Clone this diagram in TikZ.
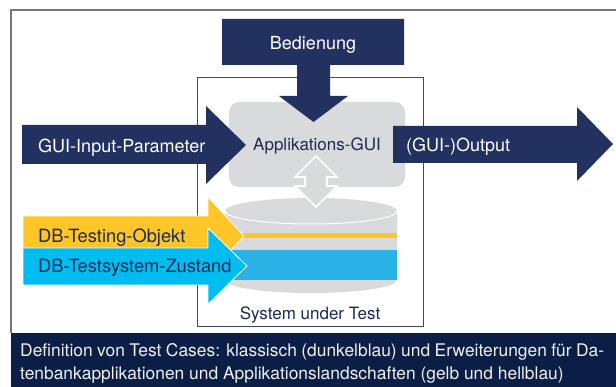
\documentclass[tikz,border=0pt]{standalone}
\usepackage{fontspec}
\setmainfont{TeX Gyre Heros}
\definecolor{navy}{HTML}{22315F}
\definecolor{capbg}{HTML}{0A1E46}
\definecolor{guigray}{HTML}{D9DADB}
\definecolor{ylw}{HTML}{FDC526}
\definecolor{cyanarr}{HTML}{00BDF0}
\definecolor{cyanband}{HTML}{29B2E6}
\definecolor{txtnavy}{HTML}{1E2A55}
\definecolor{framegray}{HTML}{777777}
\definecolor{sutline}{HTML}{3B4675}
\tikzset{
  lbl/.style={inner sep=0pt, anchor=base west, font=\fontsize{18}{20}\selectfont},
  lblw/.style={lbl, text=white},
  lbln/.style={lbl, text=txtnavy, font=\fontsize{18.3}{20}\selectfont},
  lblc/.style={inner sep=0pt, anchor=base, font=\fontsize{17}{20}\selectfont, text=txtnavy},
  captxt/.style={inner sep=0pt, anchor=base west, font=\fontsize{17.4}{20}\selectfont, text=white!94!black},
  blockarrow/.style={fill=navy, draw=none},
}
\begin{document}
\begin{tikzpicture}[x=1pt,y=-1pt]
\useasboundingbox (0,0) rectangle (616,387);
\fill[white] (0,0) rectangle (616,387);
% outer frame
\draw[framegray, line width=1.1pt] (11,333) -- (11,10) -- (616,10);
% system under test box
\draw[sutline, line width=0.9pt] (197,77) rectangle (423,326);
% GUI box
\fill[guigray, rounded corners=10pt] (229,102) rectangle (405,187);
% cylinder
\fill[guigray] (225,211) -- (225,280) arc[start angle=180, end angle=0, x radius=86, y radius=13] -- (397,211) -- cycle;
\fill[guigray] (311,211) ellipse[x radius=86, y radius=13];
\draw[white, line width=1pt] (225,211) arc[start angle=180, end angle=0, x radius=86, y radius=13];
% double arrow
\filldraw[fill=guigray, draw=white, line width=1.6pt, line join=miter]
  (316,156) -- (337,177) -- (327,177) -- (327,186) -- (337,186) -- (316,207)
  -- (295,186) -- (305,186) -- (305,177) -- (295,177) -- cycle;
% bands in cylinder
\fill[ylw] (235,233.5) rectangle (397,238.5);
\fill[cyanband] (230,250) rectangle (397,280);
% yellow arrow
\filldraw[fill=ylw, draw=white, line width=0.8pt]
  (23,216) -- (208,216) -- (208,197) -- (244,236) -- (208,275) -- (208,256) -- (23,256) -- cycle;
% blue arrow
\filldraw[fill=cyanarr, draw=white, line width=0.8pt]
  (23,248) -- (208,248) -- (208,228) -- (247,266) -- (208,304) -- (208,285) -- (23,285) -- cycle;
% input arrow
\fill[blockarrow] (22,125) -- (206,125) -- (206,106) -- (246,145) -- (206,184) -- (206,164) -- (22,164) -- cycle;
% Bedienung block arrow
\fill[blockarrow] (222,19) -- (404,19) -- (404,65) -- (330,65) -- (330,96) -- (348,96) -- (313.5,122)
  -- (279,96) -- (297,96) -- (297,65) -- (222,65) -- cycle;
% output arrow
\fill[blockarrow] (393,126) -- (577,126) -- (577,107) -- (613,144) -- (577,181) -- (577,163) -- (393,163) -- cycle;
% caption bar
\fill[capbg] (11,333) rectangle (616,387);
% labels
\node[lblw, anchor=base] (bed) at (313,50) {Bedienung};
\node[lblw] (inp) at (38,153) {GUI-Input-Parameter};
\node[lblc] (gui) at (317,151) {Applikations-GUI};
\node[lblw] (out) at (406,152) {(GUI-)Output};
\node[lbln] (dbo) at (38,243) {DB-Testing-Objekt};
\node[lbln] (dbz) at (38,273) {DB-Testsystem-Zustand};
\node[lblc] (sut) at (310,320) {System under Test};
\node[captxt] (cap1) at (20,357) {\makebox[584pt][s]{Definition von Test Cases: klassisch (dunkelblau) und Erweiterungen für Da-}};
\node[captxt] (cap2) at (20,379) {tenbankapplikationen und Applikationslandschaften (gelb und hellblau)};
\end{tikzpicture}
\end{document}
